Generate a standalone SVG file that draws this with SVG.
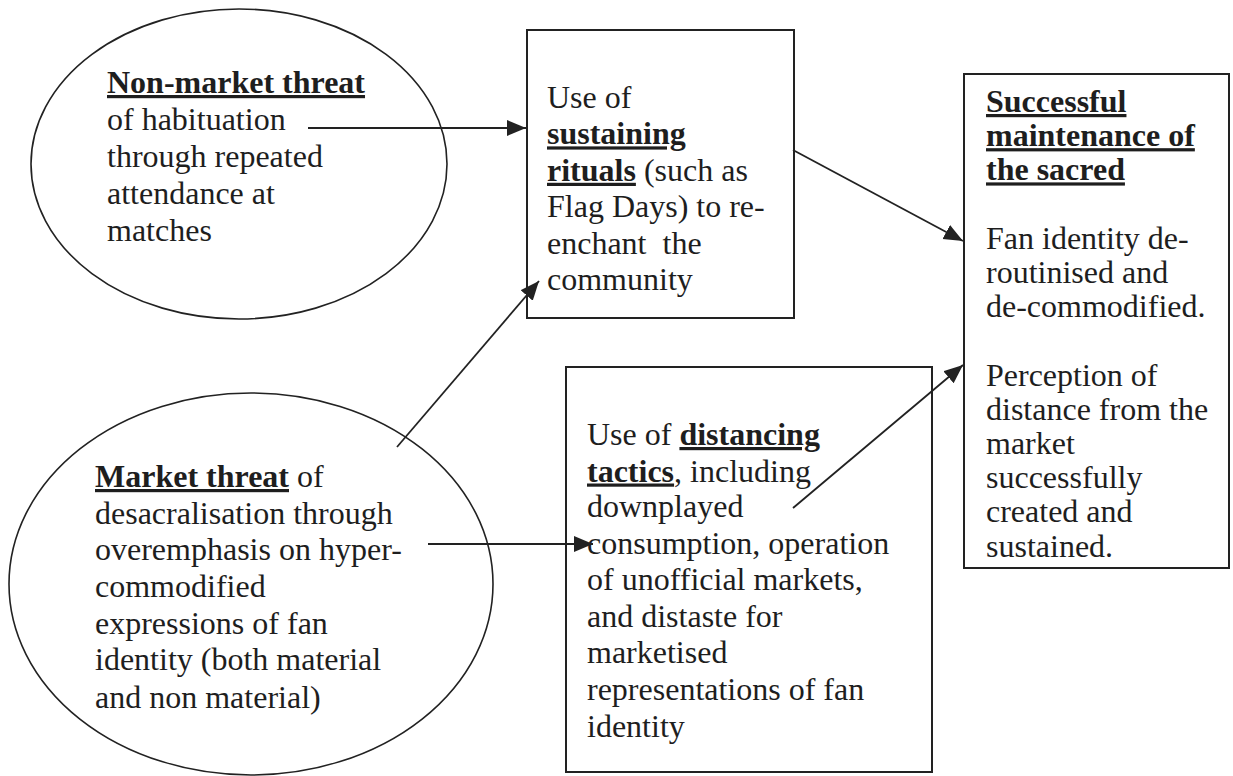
<svg xmlns="http://www.w3.org/2000/svg" width="1233" height="776" viewBox="0 0 1233 776">
<style>
.shape{fill:none;stroke:#222;stroke-width:1.6}
.box{fill:none;stroke:#222;stroke-width:2}
.t{font-family:"Liberation Serif","Times New Roman",serif;font-size:32px;fill:#1e1e1e}
.b{font-weight:bold;text-decoration:underline}
.conn{stroke:#222;stroke-width:1.8;fill:none;marker-end:url(#ah)}
</style>
<defs>
<marker id="ah" markerUnits="userSpaceOnUse" markerWidth="20" markerHeight="18" refX="19" refY="8" orient="auto">
<path d="M0,0 L19,8 L0,16 z" fill="#222"/>
</marker>
</defs>
<rect width="1233" height="776" fill="#fff"/>
<g id="nonmarket">
<ellipse class="shape" cx="239" cy="164" rx="208" ry="155"/>
<text class="t" x="107"><tspan x="107" y="93" class="b">Non-market threat</tspan><tspan x="107" y="129.5">of habituation</tspan><tspan x="107" y="166.5">through repeated</tspan><tspan x="107" y="203.5">attendance at</tspan><tspan x="107" y="240.5">matches</tspan></text>
</g>
<g id="market">
<ellipse class="shape" cx="251" cy="584" rx="242" ry="191"/>
<text class="t"><tspan x="95" y="487"><tspan class="b">Market threat</tspan> of</tspan><tspan x="95" y="523.5">desacralisation through</tspan><tspan x="95" y="560">overemphasis on hyper-</tspan><tspan x="95" y="596.5">commodified</tspan><tspan x="95" y="633.5">expressions of fan</tspan><tspan x="95" y="670">identity (both material</tspan><tspan x="95" y="707.5">and non material)</tspan></text>
</g>
<g id="sustaining">
<rect class="box" x="527" y="30" width="267" height="288"/>
<text class="t"><tspan x="547" y="108">Use of</tspan><tspan x="547" y="144.4" class="b">sustaining</tspan><tspan x="547" y="180.8"><tspan class="b">rituals</tspan> (such as</tspan><tspan x="547" y="217.2">Flag Days) to re-</tspan><tspan x="547" y="253.6">enchant&#160; the</tspan><tspan x="547" y="290">community</tspan></text>
</g>
<g id="distancing">
<rect class="box" x="566" y="367" width="366" height="405"/>
<text class="t"><tspan x="587" y="445">Use of <tspan class="b">distancing</tspan></tspan><tspan x="587" y="481.5"><tspan class="b">tactics</tspan>, including</tspan><tspan x="587" y="517">downplayed</tspan><tspan x="587" y="553.5">consumption, operation</tspan><tspan x="587" y="590">of unofficial markets,</tspan><tspan x="587" y="626.5">and distaste for</tspan><tspan x="587" y="663">marketised</tspan><tspan x="587" y="700">representations of fan</tspan><tspan x="587" y="736.5">identity</tspan></text>
</g>
<g id="sacred">
<rect class="box" x="964" y="74" width="265" height="494"/>
<text class="t"><tspan x="986" y="112" class="b">Successful</tspan><tspan x="986" y="146.2" class="b">maintenance of</tspan><tspan x="986" y="180.4" class="b">the sacred</tspan><tspan x="986" y="248.8">Fan identity de-</tspan><tspan x="986" y="283">routinised and</tspan><tspan x="986" y="317.2">de-commodified.</tspan><tspan x="986" y="385.6">Perception of</tspan><tspan x="986" y="419.8">distance from the</tspan><tspan x="986" y="454">market</tspan><tspan x="986" y="488.2">successfully</tspan><tspan x="986" y="522.4">created and</tspan><tspan x="986" y="556.6">sustained.</tspan></text>
</g>
<g id="connectors">
<line class="conn" x1="308" y1="128" x2="526" y2="128"/>
<line class="conn" x1="793" y1="150" x2="963" y2="241"/>
<line class="conn" x1="397" y1="447" x2="539" y2="281"/>
<line class="conn" x1="428" y1="544" x2="593" y2="544"/>
<line class="conn" x1="793" y1="508" x2="963" y2="365"/>
</g>
</svg>
